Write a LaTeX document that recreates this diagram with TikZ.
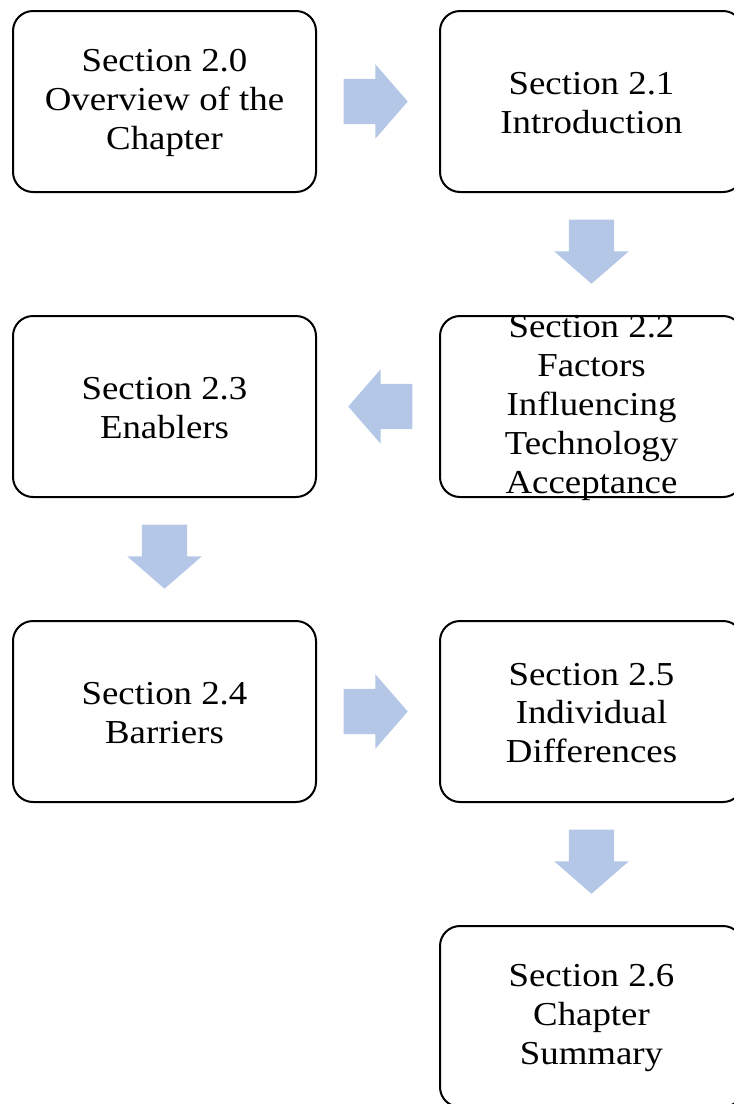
\documentclass[tikz,border=0pt]{standalone}
\usepackage{fontspec}
\setmainfont{Liberation Serif}[FakeStretch=1.1]
\usetikzlibrary{shapes.arrows,calc}

\definecolor{ArrowBlue}{RGB}{180,199,231}

\tikzset{
  secbox/.style={draw, line width=2pt, rounded corners=20pt,
    minimum width=303pt, minimum height=181pt},
  sectext/.style={align=center, inner sep=0pt, yshift=-1.5pt,
    font=\fontsize{33.5}{38.8}\selectfont},
  flowarrow/.style={single arrow, fill=ArrowBlue, draw=none, anchor=tip,
    inner xsep=0pt, inner ysep=22.5pt, minimum height=64pt,
    single arrow head extend=14.5pt, single arrow tip angle=98}
}

\begin{document}
\begin{tikzpicture}[x=1pt,y=-1pt]
	\clip (0,0) rectangle (734,1104);
	\foreach \N/\X/\Y/\T in {s20/164.5/101.5/{Section 2.0\\Overview of the\\Chapter},
	s21/591.5/101.5/{Section 2.1\\Introduction},
	s22/591.5/406.5/{Section 2.2\\Factors\\Influencing\\Technology\\Acceptance},
	s23/164.5/406.5/{Section 2.3\\Enablers},
	s24/164.5/711.5/{Section 2.4\\Barriers},
	s25/591.5/711.5/{Section 2.5\\Individual\\Differences},
	s26/591.5/1016.5/{Section 2.6\\Chapter\\Summary}}
	{\node[secbox, label={[sectext]center:\T}] (\N) at (\X,\Y) {};}
	\foreach \A/\B/\R in {s20/s21/0, s21/s22/-90, s22/s23/180,
	s23/s24/-90, s24/s25/0, s25/s26/-90}
	{\node[flowarrow, rotate=\R] (\A-\B) at ($($(\A)!0.5!(\B)$)!30pt!(\B)$) {};}
\end{tikzpicture}
\end{document}
